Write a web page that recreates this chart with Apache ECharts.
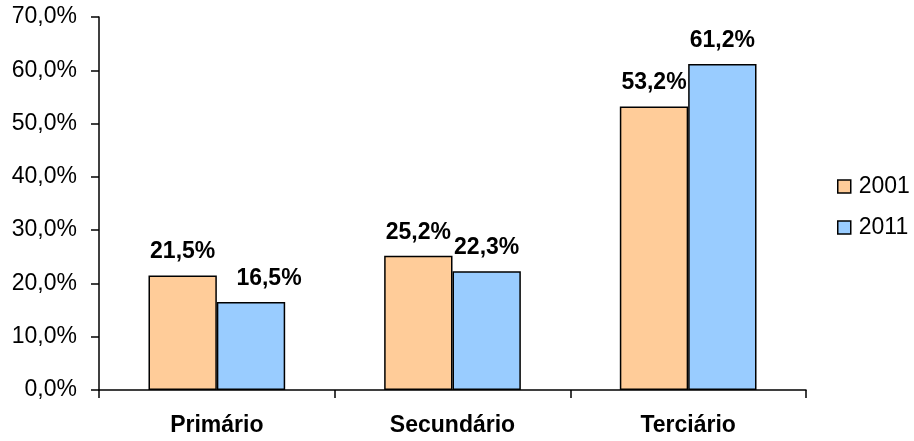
<!DOCTYPE html>
<html><head><meta charset="utf-8">
<script src="https://cdn.jsdelivr.net/npm/echarts@6/dist/echarts.min.js"></script>
<style>html,body{margin:0;padding:0;background:#fff}#c{width:914px;height:441px}</style>
</head><body><div id="c"></div>
<script>
const categories = ['Primário', 'Secundário', 'Terciário'];
const seriesNames = ['2001', '2011'];
const values2001 = [21.5, 25.2, 53.2];
const values2011 = [16.5, 22.3, 61.2];
const colors = ['#FFCC99', '#99CCFF'];
const FONT = 'Arial, "Liberation Sans", sans-serif';
const fmt = v => v.toFixed(1).replace('.', ',') + '%';
const chart = echarts.init(document.getElementById('c'), null, {renderer: 'canvas'});
function mk(name, data, color, offsets) {
  return {
    name, type: 'bar', barGap: '0%', barCategoryGap: '42%',
    data: data.map((v, i) => offsets && offsets[i] ? {value: v, label: {offset: offsets[i]}} : v),
    itemStyle: {color, borderColor: '#000', borderWidth: 1.5},
    label: {show: true, position: 'top', distance: 12, formatter: p => fmt(p.value),
      fontFamily: FONT, fontSize: 23, fontWeight: 'bold', color: '#000'}
  };
}
chart.setOption({
  animation: false,
  grid: {left: 99, right: 108, top: 17, bottom: 51, containLabel: false},
  legend: {
    orient: 'vertical', left: 837, top: 175, itemWidth: 13, itemHeight: 13, itemGap: 18,
    icon: 'rect', padding: 0,
    textStyle: {fontFamily: FONT, fontSize: 23, color: '#000', padding: [0, 0, 0, 3]},
    itemStyle: {borderColor: '#000', borderWidth: 1.5}
  },
  xAxis: {
    type: 'category', data: categories,
    axisLine: {lineStyle: {color: '#000', width: 1.5}},
    axisTick: {show: true, length: 8, inside: false, alignWithLabel: false, lineStyle: {color: '#000', width: 1.5}},
    axisLabel: {fontFamily: FONT, fontSize: 23, fontWeight: 'bold', color: '#000', margin: 24}
  },
  yAxis: {
    type: 'value', min: 0, max: 70, interval: 10,
    axisLine: {show: true, lineStyle: {color: '#000', width: 1.5}},
    axisTick: {show: true, length: 8, lineStyle: {color: '#000', width: 1.5}},
    splitLine: {show: false},
    axisLabel: {fontFamily: FONT, fontSize: 23, color: '#000', margin: 22, formatter: v => fmt(v)}
  },
  series: [mk(seriesNames[0], values2001, colors[0]), mk(seriesNames[1], values2011, colors[1], [[18, 0]])]
});
</script></body></html>
